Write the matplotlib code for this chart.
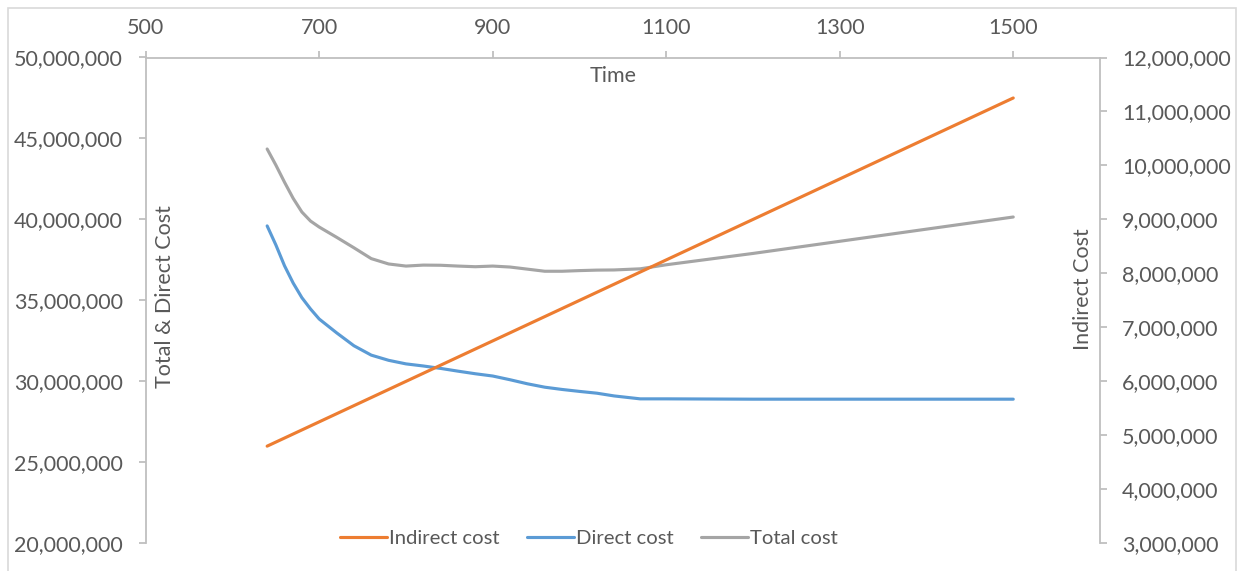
import matplotlib.pyplot as plt
import numpy as np
from matplotlib.patches import Rectangle

# time points (x) shared by all three series
time = [640, 650, 660, 670, 680, 690, 700, 720, 740, 760, 780, 800, 820, 840,
        860, 880, 900, 920, 940, 960, 980, 1000, 1020, 1040, 1070, 1100,
        1200, 1300, 1400, 1500]

# values in millions
indirect_m = [4.8, 4.875, 4.95, 5.025, 5.1, 5.175, 5.25, 5.4, 5.55, 5.7, 5.85,
              6.0, 6.15, 6.3, 6.45, 6.6, 6.75, 6.9, 7.05, 7.2, 7.35, 7.5, 7.65,
              7.8, 8.025, 8.25, 9.0, 9.75, 10.5, 11.25]
direct_m = [39.6, 38.43, 37.14, 36.07, 35.17, 34.47, 33.85, 33.0, 32.2, 31.62,
            31.3, 31.08, 30.95, 30.8, 30.63, 30.47, 30.33, 30.1, 29.85, 29.64,
            29.5, 29.38, 29.27, 29.1, 28.92, 28.92, 28.9, 28.9, 28.9, 28.9]
total_m = [44.35, 43.36, 42.3, 41.3, 40.46, 39.9, 39.53, 38.9, 38.25, 37.58,
           37.25, 37.12, 37.18, 37.17, 37.12, 37.08, 37.12, 37.06, 36.93, 36.8,
           36.8, 36.84, 36.87, 36.88, 36.95, 37.2, 37.9, 38.65, 39.4, 40.15]

x_ticks = [500, 700, 900, 1100, 1300, 1500]
left_ticks = [20e6, 25e6, 30e6, 35e6, 40e6, 45e6, 50e6]
right_ticks = [3e6, 4e6, 5e6, 6e6, 7e6, 8e6, 9e6, 10e6, 11e6, 12e6]

plt.rcParams['font.family'] = ['Lato', 'DejaVu Sans']
TXT = '#595959'
AX = '#BFBFBF'
FS = 15.5

W, H = 1244, 571
fig = plt.figure(figsize=(W / 100, H / 100), dpi=100)

# plot area in pixels
x0, x1, y0, y1 = 145.7, 1100, 57.5, 543.3
ax = fig.add_axes([x0 / W, 1 - y1 / H, (x1 - x0) / W, (y1 - y0) / H])
ax2 = ax.twinx()

ind = np.array(indirect_m) * 1e6
dirc = np.array(direct_m) * 1e6
tot = np.array(total_m) * 1e6

l_dir, = ax.plot(time, dirc, color='#5B9BD5', lw=2.25, solid_capstyle='round',
                 solid_joinstyle='round', label='Direct cost')
l_tot, = ax.plot(time, tot, color='#A5A5A5', lw=2.25, solid_capstyle='round',
                 solid_joinstyle='round', label='Total cost')
l_ind, = ax2.plot(time, ind, color='#ED7D31', lw=2.25, solid_capstyle='round',
                  label='Indirect cost')

ax.set_xlim(500, 1600)
ax.set_ylim(20e6, 50e6)
ax2.set_ylim(3e6, 12e6)

ax.xaxis.tick_top()
ax.set_xticks(x_ticks)
ax.set_yticks(left_ticks)
ax2.set_yticks(right_ticks)
ax.set_yticklabels([f'{int(v):,}' for v in left_ticks])
ax2.set_yticklabels([f'{int(v):,}' for v in right_ticks])

for a in (ax, ax2):
    for s in a.spines.values():
        s.set_visible(False)
        s.set_color(AX)
        s.set_linewidth(1.3)
ax.spines['left'].set_visible(True)
ax.spines['top'].set_visible(True)
ax2.spines['right'].set_visible(True)

ax.tick_params(axis='x', top=True, bottom=False, labeltop=True,
               labelbottom=False, length=5, width=1.3, color=AX,
               labelcolor=TXT, labelsize=FS, pad=9)
ax.tick_params(axis='y', length=5, width=1.3, color=AX, labelcolor=TXT,
               labelsize=FS, pad=11.5)
ax2.tick_params(axis='y', length=5, width=1.3, color=AX, labelcolor=TXT,
                labelsize=FS, pad=11)

# axis titles
fig.text(613 / W, 1 - 76 / H, 'Time', ha='center', va='center',
         color=TXT, fontsize=FS)
fig.text(165 / W, 1 - 297 / H, 'Total & Direct Cost', ha='center',
         va='center', rotation=90, color=TXT, fontsize=FS)
fig.text(1083 / W, 1 - 289 / H, 'Indirect Cost', ha='center',
         va='center', rotation=90, color=TXT, fontsize=FS)

fig.legend(handles=[l_ind, l_dir, l_tot], loc='center',
           bbox_to_anchor=(589 / W, 1 - 538 / H), ncol=3, frameon=False,
           fontsize=14.6, labelcolor=TXT, handlelength=2.3, handletextpad=0.12,
           columnspacing=1.35)

# chart area border
fig.patches.append(Rectangle((8 / W, -0.02), (1236 - 8) / W, 1.02 - 8 / H,
                             transform=fig.transFigure, fill=False,
                             edgecolor='#D9D9D9', lw=1.2))

fig.savefig('out.png', dpi=100)
